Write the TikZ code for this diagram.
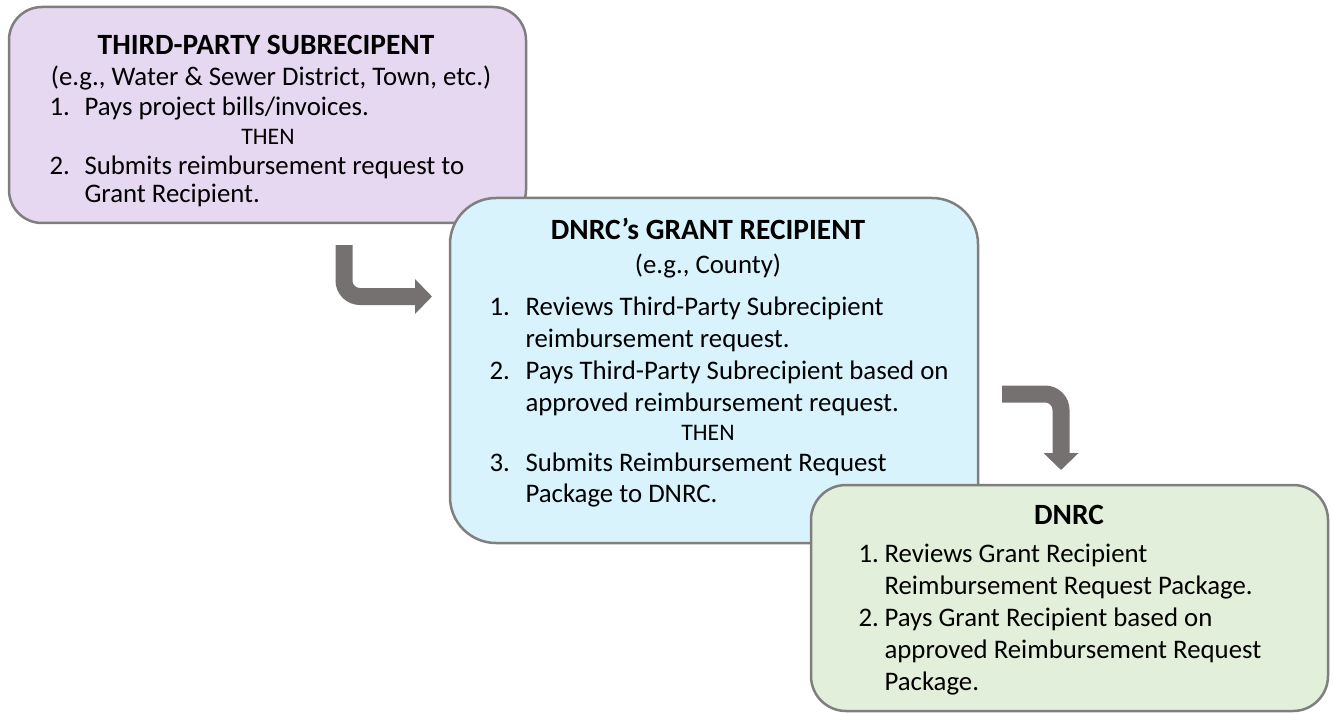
\documentclass[tikz,border=0pt]{standalone}
\usepackage{fontspec}
\setmainfont{Carlito}
\usetikzlibrary{calc,arrows.meta}

\definecolor{boxline}{HTML}{7F7F7F}
\definecolor{thirdfill}{HTML}{E6D8F0}
\definecolor{grantfill}{HTML}{D9F3FD}
\definecolor{dnrcfill}{HTML}{E2EFDA}
\definecolor{arrowgray}{HTML}{767171}

\tikzset{
  stage/.style={draw=boxline, line width=2.5pt, anchor=north west, inner sep=0pt, outer sep=0pt},
  hd/.style={anchor=base, font=\fontsize{29.4}{35}\selectfont\bfseries},
  ctr/.style={anchor=base},
  tx/.style={anchor=base west},
  thenword/.style={anchor=base, font=\fontsize{23.7}{28}\selectfont},
  bentarrow/.style={draw=arrowgray, line width=17pt, rounded corners=16pt, -{Triangle[length=17pt,width=34pt]}}
}

\begin{document}
\begin{tikzpicture}[x=1pt, y=-1pt, font=\fontsize{26.8}{32}\selectfont]
		%%%%% START %%%%%
		\useasboundingbox (0,0) rectangle (1333,714);
		
		% third-party subrecipient
		\node[stage, fill=thirdfill, rounded corners=33pt, minimum width=517pt, minimum height=216pt] (third) at (9,7) {};
		\node[hd] (thirdtitle) at (266,55) {THIRD-PARTY SUBRECIPENT};
		\node[ctr] (thirdeg) at (271,86) {(e.g., Water \& Sewer District, Town, etc.)};
		\node[tx] (thirdn1) at (46,116) {1.};
		\node[tx] (thirdi1) at (81,116) {Pays project bills/invoices.};
		\node[thenword] (thirdthen) at (268,145) {THEN};
		\node[tx] (thirdn2) at (46,175) {2.};
		\node[tx] (thirdi2a) at (81,175) {Submits reimbursement request to};
		\node[tx] (thirdi2b) at (81,203) {Grant Recipient.};
		
		\draw[bentarrow] ($(third.south west)+(335,22)$) |- ($(third.south west)+(423,73.5)$);
		
		% grant recipient
		\node[stage, fill=grantfill, rounded corners=46pt, minimum width=528pt, minimum height=345pt] (grant) at (450,198) {};
		\node[hd] (granttitle) at (708,240) {DNRC’s GRANT RECIPIENT};
		\node[ctr] (granteg) at (708,273) {(e.g., County)};
		\node[tx] (grantn1) at (486,315) {1.};
		\node[tx] (granti1a) at (522,315) {Reviews Third-Party Subrecipient};
		\node[tx] (granti1b) at (522,347) {reimbursement request.};
		\node[tx] (grantn2) at (486,379) {2.};
		\node[tx] (granti2a) at (522,379) {Pays Third-Party Subrecipient based on};
		\node[tx] (granti2b) at (522,411) {approved reimbursement request.};
		\node[thenword] (grantthen) at (708,440) {THEN};
		\node[tx] (grantn3) at (486,471) {3.};
		\node[tx] (granti3a) at (522,471) {Submits Reimbursement Request};
		\node[tx] (granti3b) at (522,502) {Package to DNRC.};
		
		\draw[bentarrow] ($(grant.north east)+(24,196)$) -| ($(grant.north east)+(83,272)$);
		
		% dnrc
		\node[stage, fill=dnrcfill, rounded corners=35pt, minimum width=517pt, minimum height=226pt] (dnrc) at (811,485) {};
		\node[hd] (dnrctitle) at (1069,524) {DNRC};
		\node[tx] (dnrcn1) at (855,562) {1.};
		\node[tx] (dnrci1a) at (881,562) {Reviews Grant Recipient};
		\node[tx] (dnrci1b) at (881,594) {Reimbursement Request Package.};
		\node[tx] (dnrcn2) at (855,626) {2.};
		\node[tx] (dnrci2a) at (881,626) {Pays Grant Recipient based on};
		\node[tx] (dnrci2b) at (881,658) {approved Reimbursement Request};
		\node[tx] (dnrci2c) at (881,690) {Package.};
		
		%%%%% END %%%%%
	\end{tikzpicture}
\end{document}
